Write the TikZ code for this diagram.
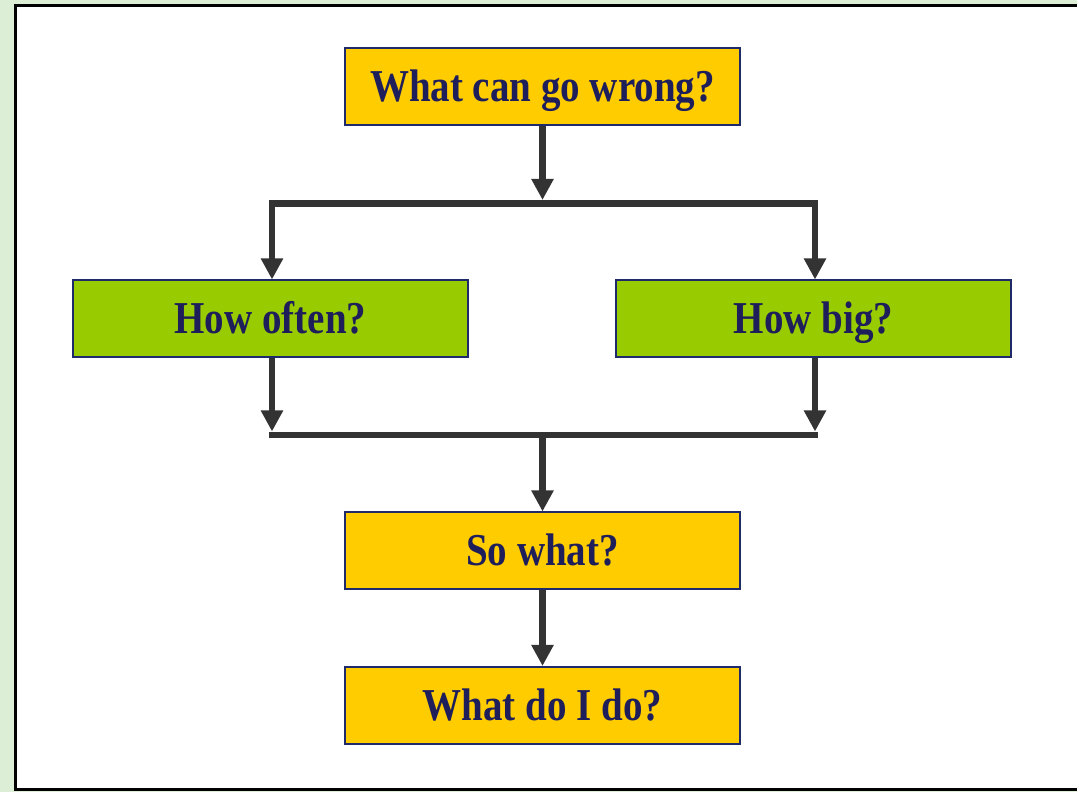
\documentclass[tikz,border=0pt]{standalone}
\usepackage{fontspec}
\usepackage{graphicx}
\setmainfont{Liberation Serif}
\usetikzlibrary{arrows.meta}
\definecolor{bggreen}{HTML}{DDEED6}
\definecolor{boxyellow}{HTML}{FFCC00}
\definecolor{boxgreen}{HTML}{99CC00}
\definecolor{boxedge}{HTML}{1F2A6B}
\definecolor{txt}{HTML}{1E1E5A}
\definecolor{conn}{HTML}{333333}
\newcommand{\tallt}[1]{\scalebox{1}[1.17]{#1}}
\tikzset{
  qbox/.style={draw=boxedge, line width=2pt, minimum width=395pt, minimum height=77pt,
    inner sep=0pt, text height=30pt, text depth=0pt, text=txt,
    font=\fontsize{39}{44}\selectfont\bfseries},
  ybox/.style={qbox, fill=boxyellow},
  gbox/.style={qbox, fill=boxgreen},
  conline/.style={draw=conn, line width=6.5pt, line join=miter},
  conarrow/.style={conline, -{Triangle[width=21pt,length=21pt]}}
}
\begin{document}
\begin{tikzpicture}[x=1pt,y=1pt]
\useasboundingbox (0,0) rectangle (1077,792);
\fill[bggreen] (0,0) rectangle (1077,792);
\filldraw[fill=white, draw=black, line width=3pt] (1090,2) -- (15,2) -- (15,786.5) -- (1090,786.5);

\node[ybox] (wrong) at (542.5,705.5) {\tallt{What can go wrong?}};
\node[gbox] (often) at (270.5,473) {\tallt{How often?}};
\node[gbox] (big) at (813.5,473) {\tallt{How big?}};
\node[ybox] (sowhat) at (542.5,241) {\tallt{So what?}};
\node[ybox] (dodo) at (542.5,86.5) {\tallt{What do I do?}};

\coordinate (tb) at (542.5,588.5);
\coordinate (bb) at (542.5,357);

% split
\draw[conarrow] (wrong.south) -- ([yshift=3.5pt]tb);
\draw[conline, {Triangle[width=21pt,length=21pt]}-{Triangle[width=21pt,length=21pt]}]
  ([xshift=1.5pt]often.north) |- (tb) -| ([xshift=1.5pt]big.north);

% merge
\draw[conarrow] ([xshift=1.5pt]often.south) -- ([xshift=1.5pt,yshift=3.5pt]often.south |- bb);
\draw[conarrow] ([xshift=1.5pt]big.south) -- ([xshift=1.5pt,yshift=3.5pt]big.south |- bb);
\draw[conline] ([xshift=-1.75pt]often.south |- bb) -- ([xshift=4.75pt]big.south |- bb);
\draw[conarrow] (bb) -- (sowhat.north);
\draw[conarrow] (sowhat.south) -- (dodo.north);
\end{tikzpicture}
\end{document}
